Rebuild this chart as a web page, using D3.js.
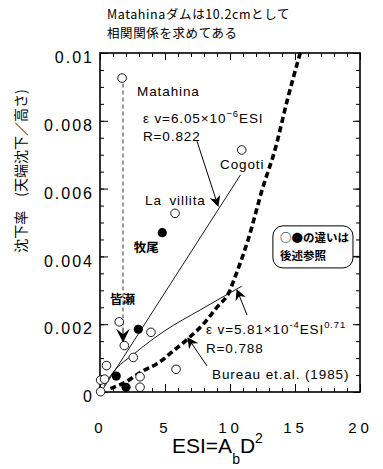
<!DOCTYPE html>
<html lang="ja">
<head>
<meta charset="UTF-8">
<title>沈下率とESI</title>
<script src="https://d3js.org/d3.v7.min.js"></script>
<style>
  body { margin: 0; background: #fff; }
  svg { display: block; font-family: "Liberation Sans", "Noto Sans CJK JP", sans-serif; }
  .jp { font-family: "Noto Sans CJK JP", sans-serif; }
  .lab { font-size: 13.5px; letter-spacing: 0.9px; }
</style>
</head>
<body>
<svg width="383" height="469"></svg>
<script>
// --- data (ESI, settlement ratio) ---
const openPoints = [
  [1.7, 0.00926], [5.77, 0.00527], [10.9, 0.00714],
  [1.48, 0.00207], [3.92, 0.00176], [1.87, 0.00137], [2.56, 0.00102],
  [0.5, 0.00078], [5.85, 0.00067], [0.05, 0.00035], [0.35, 0.00038],
  [3.08, 0.00045], [3.08, 0.00014], [0.05, 0.00001]
];
const filledPoints = [
  [4.79, 0.0047], [2.95, 0.00185], [1.25, 0.00047], [2.0, 0.00014]
];
// linear fit εv = 6.05e-6 ESI
const fitLinear = [[0.25, 0.0001], [10.8, 0.0064]];
// power fit εv = 5.81e-4 ESI^0.71
const fitPower = [[0.3, 0.00018], [1, 0.00058], [2.6, 0.00112], [5, 0.00181], [7.7, 0.00242], [10.9, 0.00312]];
// Bureau et.al. (1985)
const bureau = [
  [0.8, 0.0001], [2, 0.0003], [3.2, 0.0006], [4.5, 0.00086], [5.6, 0.0012],
  [6.7, 0.00155], [8.1, 0.00207], [9, 0.0025], [10, 0.003], [10.3, 0.0033],
  [11.4, 0.0045], [12.5, 0.006], [13.5, 0.0072], [14.4, 0.0086], [15.4, 0.01]
];
const xTicks = [0, 5, 10, 15, 20];
const yTicks = [0, 0.002, 0.004, 0.006, 0.008, 0.01];
const yTickLabels = ["0", "0.002", "0.004", "0.006", "0.008", "0.01"];

const svg = d3.select("svg");
const x = d3.scaleLinear().domain([0, 20]).range([100, 360]);
const y = d3.scaleLinear().domain([0, 0.01]).range([392, 53]);

// title
svg.append("text").attr("class", "jp").attr("x", 107).attr("y", 19)
  .style("font-size", "12.5px").style("letter-spacing", "0.6px").text("Matahinaダムは10.2cmとして");
svg.append("text").attr("class", "jp").attr("x", 107).attr("y", 38)
  .style("font-size", "12.5px").style("letter-spacing", "0.6px").text("相関関係を求めてある");

// inward ticks on all four sides
const minorX = d3.range(0, 21, 1), minorY = d3.range(0, 0.01001, 0.0005);
function ticks(axis, scale, vals, size, tr) {
  const g = svg.append("g").attr("transform", tr)
    .call(axis(scale).tickValues(vals).tickSize(size).tickFormat(""));
  g.select(".domain").remove();
  g.selectAll("line").attr("stroke", "#000").attr("stroke-width", 1);
}
ticks(d3.axisBottom, x, minorX, -4, "translate(0,392)");
ticks(d3.axisBottom, x, xTicks, -8, "translate(0,392)");
ticks(d3.axisTop, x, minorX, -4, "translate(0,53)");
ticks(d3.axisTop, x, xTicks, -7, "translate(0,53)");
ticks(d3.axisLeft, y, minorY, -4, "translate(100,0)");
ticks(d3.axisLeft, y, yTicks, -8, "translate(100,0)");
ticks(d3.axisRight, y, minorY, -4, "translate(360,0)");
ticks(d3.axisRight, y, yTicks, -7, "translate(360,0)");

// frame
svg.append("rect").attr("x", x(0)).attr("y", y(0.01))
  .attr("width", x(20) - x(0)).attr("height", y(0) - y(0.01))
  .attr("fill", "none").attr("stroke", "#000").attr("stroke-width", 1.6);

// tick labels
const xl = svg.append("g").attr("transform", "translate(0,392)")
  .call(d3.axisBottom(x).tickValues(xTicks).tickSize(0).tickPadding(30));
xl.select(".domain").remove();
xl.selectAll("text").attr("font-size", 15).attr("font-family", "Liberation Sans")
  .style("letter-spacing", "4px").attr("fill", "#000");

const yl = svg.append("g").attr("transform", "translate(100,0)")
  .call(d3.axisLeft(y).tickValues(yTicks).tickSize(0).tickPadding(6)
    .tickFormat((d, i) => yTickLabels[i]));
yl.select(".domain").remove();
yl.selectAll("text").attr("font-size", 16).attr("font-family", "Liberation Sans")
  .attr("dy", "0.6em").style("letter-spacing", "2px").attr("fill", "#000");

// axis titles
svg.append("text").attr("class", "jp")
  .attr("transform", "translate(26,171) rotate(-90)")
  .attr("text-anchor", "middle").style("font-size", "14px")
  .text("沈下率　(天端沈下／高さ)");
const xt = svg.append("text").attr("x", 172).attr("y", 453).style("font-size", "21px");
xt.append("tspan").text("ESI=A");
xt.append("tspan").attr("dy", 11).style("font-size", "14px").text("b");
xt.append("tspan").attr("dy", -11).text("D");
xt.append("tspan").attr("dy", -10).style("font-size", "14px").text("2");

// Matahina dashed drop line
svg.append("line")
  .attr("x1", x(1.77)).attr("y1", y(0.0091)).attr("x2", x(1.77)).attr("y2", y(0.0019))
  .attr("stroke", "#000").attr("stroke-width", 0.8).attr("stroke-dasharray", "4,3");

// fit lines
const line = d3.line().x(d => x(d[0])).y(d => y(d[1]));
svg.append("path").datum(fitLinear).attr("d", line)
  .attr("fill", "none").attr("stroke", "#000").attr("stroke-width", 0.9);
svg.append("path").datum(fitPower).attr("d", line.curve(d3.curveMonotoneX))
  .attr("fill", "none").attr("stroke", "#000").attr("stroke-width", 0.9);
svg.append("path").datum(bureau).attr("d", d3.line().x(d => x(d[0])).y(d => y(d[1])).curve(d3.curveMonotoneX))
  .attr("fill", "none").attr("stroke", "#000").attr("stroke-width", 3.6)
  .attr("stroke-dasharray", "6,3.5");

// points
svg.selectAll("circle.open").data(openPoints).join("circle").attr("class", "open")
  .attr("cx", d => x(d[0])).attr("cy", d => y(d[1])).attr("r", 4.3)
  .attr("fill", "#fff").attr("stroke", "#000").attr("stroke-width", 0.9);
svg.selectAll("circle.filled").data(filledPoints).join("circle").attr("class", "filled")
  .attr("cx", d => x(d[0])).attr("cy", d => y(d[1])).attr("r", 4.6)
  .attr("fill", "#000");

// arrows
const defs = svg.append("defs");
defs.append("marker").attr("id", "ah")
  .attr("viewBox", "0 0 10 10").attr("refX", 9).attr("refY", 5)
  .attr("markerWidth", 11).attr("markerHeight", 11).attr("markerUnits", "userSpaceOnUse")
  .attr("orient", "auto")
  .append("path").attr("d", "M0,0 L10,5 L0,10 L3,5 z").attr("fill", "#000");
defs.append("marker").attr("id", "ahBig")
  .attr("viewBox", "0 0 10 10").attr("refX", 9).attr("refY", 5)
  .attr("markerWidth", 14).attr("markerHeight", 14).attr("markerUnits", "userSpaceOnUse")
  .attr("orient", "auto")
  .append("path").attr("d", "M0,0 L10,5 L0,10 L4,5 z").attr("fill", "#000");
const arrows = [
  [[7.46, 0.0074], [9.08, 0.00549], "ah"],
  [[11.31, 0.00227], [10.54, 0.00301], "ah"],
  [[8.23, 0.00077], [6.77, 0.00159], "ah"],
  [[1.77, 0.0019], [1.77, 0.0015], "ahBig"]
];
arrows.forEach(a => {
  svg.append("line")
    .attr("x1", x(a[0][0])).attr("y1", y(a[0][1]))
    .attr("x2", x(a[1][0])).attr("y2", y(a[1][1]))
    .attr("stroke", "#000").attr("stroke-width", 1).attr("marker-end", `url(#${a[2]})`);
});

// labels
const labels = [
  [2.85, 0.00874, "Matahina", false],
  [9.23, 0.00658, "Cogoti", false],
  [3.46, 0.00552, "La\u2002villita", false],
  [2.6, 0.00413, "牧尾", true],
  [0.77, 0.0026, "皆瀬", true],
  [3.3, 0.0074, "R=0.822", false],
  [8.15, 0.00115, "R=0.788", false],
  [8.62, 0.00038, "Bureau et.al. (1985)", false]
];
labels.forEach(l => {
  svg.append("text").attr("class", l[3] ? "jp" : "lab")
    .attr("x", x(l[0])).attr("y", y(l[1]))
    .style("font-size", l[3] ? "12.5px" : null).style("font-weight", l[3] ? "bold" : "normal")
    .text(l[2]);
});

// equations
const eq1 = svg.append("text").attr("class", "lab").attr("x", x(3.3)).attr("y", y(0.00794));
eq1.append("tspan").text("ε v=6.05×10");
eq1.append("tspan").attr("dy", -6).style("font-size", "9.5px").text("−6");
eq1.append("tspan").attr("dy", 6).text("ESI");
const eq2 = svg.append("text").attr("class", "lab").attr("x", x(8.15)).attr("y", y(0.00171));
eq2.append("tspan").text("ε v=5.81×10");
eq2.append("tspan").attr("dy", -6).style("font-size", "9.5px").text("-4");
eq2.append("tspan").attr("dy", 6).text("ESI");
eq2.append("tspan").attr("dy", -6).style("font-size", "9.5px").text("0.71");

// note box
svg.append("rect").attr("x", x(13.3)).attr("y", y(0.0049))
  .attr("width", x(19.46) - x(13.3)).attr("height", y(0.00366) - y(0.0049))
  .attr("rx", 10).attr("fill", "#fff").attr("stroke", "#000").attr("stroke-width", 1);
svg.append("line").attr("x1", x(19.46)).attr("x2", x(20)).attr("y1", y(0.004)).attr("y2", y(0.004))
  .attr("stroke", "#000");
svg.append("text").attr("class", "jp").attr("x", x(13.85)).attr("y", y(0.00443))
  .style("font-size", "11.5px").style("font-weight", "bold").text("○●の違いは");
svg.append("text").attr("class", "jp").attr("x", x(13.85)).attr("y", y(0.0039))
  .style("font-size", "11.5px").style("font-weight", "bold").text("後述参照");
</script>
</body>
</html>
